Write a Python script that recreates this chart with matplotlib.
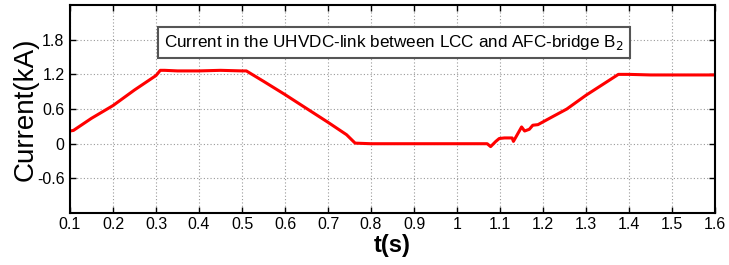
import matplotlib
matplotlib.use("Agg")
import matplotlib.pyplot as plt

plt.rcParams['font.family'] = ['Liberation Sans', 'DejaVu Sans']

# Corriente en el enlace UHVDC
tiempo = [0.100, 0.108, 0.116, 0.130, 0.150, 0.200, 0.250, 0.300, 0.310, 0.320,
          0.350, 0.400, 0.450, 0.500, 0.510, 0.550, 0.600, 0.650, 0.700, 0.743,
          0.763, 0.800, 0.900, 1.000, 1.070, 1.078, 1.090, 1.098, 1.110, 1.128,
          1.131, 1.150, 1.157, 1.168, 1.176, 1.188, 1.220, 1.255, 1.300, 1.350,
          1.375, 1.400, 1.450, 1.500, 1.550, 1.600]
corriente = [0.22, 0.23, 0.27, 0.34, 0.44, 0.66, 0.93, 1.18, 1.27, 1.27,
             1.26, 1.26, 1.27, 1.26, 1.26, 1.08, 0.85, 0.61, 0.37, 0.156,
             0.01, 0.00, 0.00, 0.00, 0.00, -0.05, 0.04, 0.09, 0.10, 0.10,
             0.04, 0.29, 0.22, 0.25, 0.32, 0.33, 0.46, 0.60, 0.84, 1.08,
             1.20, 1.20, 1.19, 1.19, 1.19, 1.19]

ticks_x = [0.1, 0.2, 0.3, 0.4, 0.5, 0.6, 0.7, 0.8, 0.9, 1, 1.1, 1.2, 1.3, 1.4, 1.5, 1.6]
etiquetas_x = ['0.1', '0.2', '0.3', '0.4', '0.5', '0.6', '0.7', '0.8', '0.9', '1',
               '1.1', '1.2', '1.3', '1.4', '1.5', '1.6']
ticks_y = [-0.6, 0, 0.6, 1.2, 1.8]
etiquetas_y = ['-0.6', '0', '0.6', '1.2', '1.8']

titulo = "Current in the UHVDC-link between LCC and AFC-bridge B$_2$"

fig = plt.figure(figsize=(7.29, 2.65), dpi=100)
ax = fig.add_axes([0.096, 0.196, 0.885, 0.785])

ax.plot(tiempo, corriente, color='red', linewidth=2.2)

ax.set_xlim(0.1, 1.6)
ax.set_ylim(-1.2, 2.4)
ax.set_xticks(ticks_x)
ax.set_xticklabels(etiquetas_x)
ax.set_yticks(ticks_y)
ax.set_yticklabels(etiquetas_y)
ax.tick_params(direction='in', top=True, right=True, labelsize=11.5, length=4, width=1)
ax.tick_params(axis='x', pad=3)
ax.tick_params(axis='y', pad=4)
ax.grid(True, linestyle=(0, (1, 2)), color='#999999', linewidth=0.8)
for lado in ax.spines.values():
	lado.set_linewidth(1.5)

ax.set_xlabel("t(s)", fontsize=17, fontweight='bold', labelpad=1)
ax.set_ylabel("Current(kA)", fontsize=20, labelpad=-1)

ax.text(0.853, 1.755, titulo, fontsize=12.3, ha='center', va='center',
        bbox=dict(boxstyle='square,pad=0.35', facecolor='white', edgecolor='#555555', linewidth=1.5))

fig.savefig("out.png", dpi=100)
